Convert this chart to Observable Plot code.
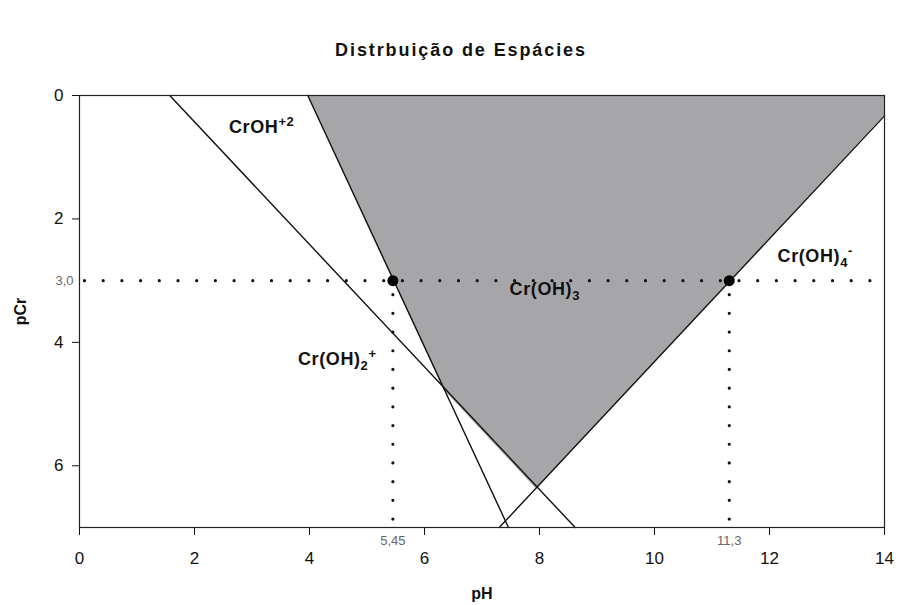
<!DOCTYPE html>
<html>
<head>
<meta charset="utf-8">
<script src="https://cdn.jsdelivr.net/npm/d3@7"></script>
<script src="https://cdn.jsdelivr.net/npm/@observablehq/plot@0.6"></script>
<style>
  body { margin: 0; background: #fff; font-family: "Liberation Sans", Arial, sans-serif; }
  #title { height: 30px; padding-top: 40px; padding-left: 24px; text-align: center; font-weight: bold; font-size: 18px; line-height: 20px; letter-spacing: 1.9px; color: #111; }
</style>
</head>
<body>
<div id="title">Distrbuição de Espácies</div>
<div id="chart"></div>
<script>
// ---- data ----
const phTicks = [0, 2, 4, 6, 8, 10, 12, 14];
const pcrTicks = [0, 2, 4, 6];
// boundary lines (pH, pCr)
const lineA = [{ph: 1.57, pcr: 0}, {ph: 8.62, pcr: 7}];   // CrOH+2 / Cr(OH)2+
const lineB = [{ph: 3.97, pcr: 0}, {ph: 7.46, pcr: 7}];   // Cr(OH)3 left boundary
const lineC = [{ph: 14, pcr: 0.33}, {ph: 7.30, pcr: 7}];  // Cr(OH)4- boundary
// lower edge of the shaded Cr(OH)3 region (upper edge is pCr = 0)
const solidLower = [
  {ph: 3.97, pcr: 0}, {ph: 6.34, pcr: 4.77}, {ph: 7.95, pcr: 6.38}, {ph: 14, pcr: 0.33}
];
// reference point at pCr = 3,0
const refPCr = 3.0;
const refPH = [5.45, 11.3];
const refPHLabels = ["5,45", "11,3"];
const refPCrLabel = "3,0";
const species = [
  {label: "CrOH^{+2}", ph: 2.60, pcr: 0.52},
  {label: "Cr(OH)_{3}", ph: 7.48, pcr: 3.14},
  {label: "Cr(OH)_{2}^{+}", ph: 3.80, pcr: 4.28},
  {label: "Cr(OH)_{4}^{-}", ph: 12.14, pcr: 2.61}
];

const hDots = [{ph: 0, pcr: refPCr}, {ph: 14, pcr: refPCr}];
const vDots = refPH.flatMap((p, i) => [{ph: p, pcr: refPCr, k: i}, {ph: p, pcr: 7, k: i}]);
const refPts = refPH.map(p => ({ph: p, pcr: refPCr}));

const font = '"Liberation Sans", Arial, sans-serif';
const chart = Plot.plot({
  width: 898,
  height: 535,
  marginTop: 25,
  marginBottom: 78,
  marginLeft: 79,
  marginRight: 14,
  style: {fontFamily: font, fontSize: "16px", color: "#111", background: "#fff"},
  x: {domain: [0, 14]},
  y: {domain: [0, 7], reverse: true},
  marks: [
    Plot.areaY(solidLower, {x: "ph", y1: 0, y2: "pcr", fill: "#a6a6a9"}),
    Plot.line(lineA, {x: "ph", y: "pcr", stroke: "#111", strokeWidth: 1.4}),
    Plot.line(lineB, {x: "ph", y: "pcr", stroke: "#111", strokeWidth: 1.4}),
    Plot.line(lineC, {x: "ph", y: "pcr", stroke: "#111", strokeWidth: 1.4}),
    Plot.line(hDots, {x: "ph", y: "pcr", stroke: "#111", strokeWidth: 3.2, strokeLinecap: "round", strokeDasharray: "0,18.7", strokeDashoffset: -5}),
    Plot.line(vDots, {x: "ph", y: "pcr", z: "k", stroke: "#111", strokeWidth: 3.2, strokeLinecap: "round", strokeDasharray: "0,18.7", strokeDashoffset: -14}),
    Plot.dot(refPts, {x: "ph", y: "pcr", r: 5.5, fill: "#000", stroke: "none"}),
    Plot.text(species, {x: "ph", y: "pcr", text: "label", textAnchor: "start", fontSize: 18, fontWeight: "bold", fill: "#111", className: "rich"}),
    Plot.frame({stroke: "#222", strokeWidth: 1.2}),
    Plot.axisX({ticks: phTicks, tickSize: 8, tickPadding: 16, fontSize: 17, tickFormat: d => String(d), label: "pH", labelAnchor: "center", labelOffset: 71, labelArrow: false}),
    Plot.axisY({ticks: pcrTicks, tickSize: 7, tickPadding: 9, fontSize: 17, tickFormat: d => String(d), label: "pCr", labelAnchor: "center", labelOffset: 65, labelArrow: false}),
    Plot.text(refPH, {x: d => d, frameAnchor: "bottom", dy: 17, text: (d, i) => refPHLabels[i], fontSize: 13, fill: "#666"}),
    Plot.text([refPCr], {y: d => d, frameAnchor: "left", dx: -6, textAnchor: "end", text: () => refPCrLabel, fontSize: 13, fill: "#666"})
  ]
});
document.getElementById("chart").appendChild(chart);

// rich text: superscripts / subscripts
const NS = "http://www.w3.org/2000/svg";
chart.querySelectorAll("g.rich text").forEach(t => {
  const s = t.textContent;
  const re = /([_^])\{([^}]*)\}|([^_^]+)/g;
  let m, cur = 0;
  t.textContent = "";
  t.setAttribute("letter-spacing", "0.6");
  while ((m = re.exec(s))) {
    const ts = document.createElementNS(NS, "tspan");
    let target = 0, txt = m[3];
    if (m[1] === "^") { target = -7; txt = m[2]; }
    else if (m[1] === "_") { target = 5; txt = m[2]; }
    ts.setAttribute("dy", target - cur);
    cur = target;
    if (m[1]) ts.setAttribute("font-size", "13");
    ts.textContent = txt;
    t.appendChild(ts);
  }
});
// axis label styling
chart.querySelectorAll("g[aria-label='x-axis label'] text, g[aria-label='y-axis label'] text").forEach(t => {
  t.setAttribute("font-weight", "bold");
  t.setAttribute("font-size", "16");
});
</script>
</body>
</html>
